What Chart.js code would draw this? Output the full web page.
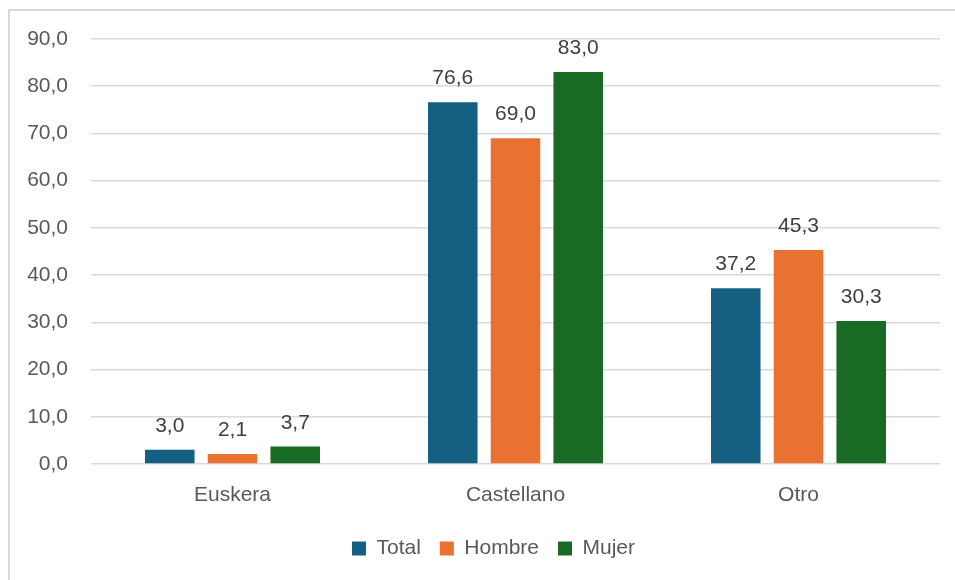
<!DOCTYPE html>
<html>
<head>
<meta charset="utf-8">
<script src="https://cdn.jsdelivr.net/npm/chart.js@4.4.1/dist/chart.umd.min.js"></script>
<style>
    html, body { margin: 0; padding: 0; background: #ffffff; }
    #wrap { position: relative; width: 955px; height: 580px; overflow: hidden; }
    #frame {
        position: absolute; left: 8px; top: 9px; width: 1000px; height: 1000px;
        border-top: 2px solid #d9d9d9; border-left: 2px solid #d9d9d9;
        pointer-events: none;
    }
    canvas { position: absolute; left: 0; top: 0; }
</style>
</head>
<body>
<div id="wrap">
    <canvas id="chart" width="955" height="580"></canvas>
    <div id="frame"></div>
</div>
<script>
// Data
const categories = ['Euskera', 'Castellano', 'Otro'];
const totalValues = [3.0, 76.6, 37.2];
const hombreValues = [2.1, 69.0, 45.3];
const mujerValues = [3.7, 83.0, 30.3];

const FONT = "'Liberation Sans', Arial, sans-serif";
const FONT_SIZE = 21;
const fmt = v => Number(v).toFixed(1).replace('.', ',');

// Value labels above each bar
const valueLabels = {
    id: 'valueLabels',
    afterDatasetsDraw(chart) {
        const ctx = chart.ctx;
        ctx.save();
        ctx.font = FONT_SIZE + 'px ' + FONT;
        ctx.fillStyle = '#404040';
        ctx.textAlign = 'center';
        ctx.textBaseline = 'alphabetic';
        chart.data.datasets.forEach((ds, i) => {
            chart.getDatasetMeta(i).data.forEach((bar, j) => {
                ctx.fillText(fmt(ds.data[j]), bar.x, bar.y - 18);
            });
        });
        ctx.restore();
    }
};

// Nudge the legend box so it is centred like the original
const legendShift = {
    id: 'legendShift',
    afterLayout(chart) {
        if (chart.legend) chart.legend.left += 47;
    }
};

const ctx = document.getElementById('chart').getContext('2d');
new Chart(ctx, {
    type: 'bar',
    data: {
        labels: categories,
        datasets: [
            { label: 'Total', data: totalValues, backgroundColor: '#156082' },
            { label: 'Hombre', data: hombreValues, backgroundColor: '#e97132' },
            { label: 'Mujer', data: mujerValues, backgroundColor: '#196b24' }
        ]
    },
    options: {
        responsive: false,
        animation: false,
        devicePixelRatio: 1,
        categoryPercentage: 0.665,
        barPercentage: 0.79,
        layout: { padding: { left: 0, right: 15, top: 39, bottom: 11 } },
        plugins: {
            tooltip: { enabled: false },
            legend: {
                position: 'bottom',
                labels: {
                    boxWidth: 14,
                    boxHeight: 14,
                    padding: 19,
                    color: '#595959',
                    font: { family: FONT, size: FONT_SIZE }
                }
            }
        },
        scales: {
            x: {
                grid: { display: false },
                border: { display: false },
                ticks: { color: '#595959', padding: 11, font: { family: FONT, size: FONT_SIZE } },
                afterFit: s => { s.height = 55; }
            },
            y: {
                min: 0,
                max: 90,
                grid: { color: '#d9d9d9', lineWidth: 1.5, drawTicks: false },
                border: { display: false },
                ticks: {
                    stepSize: 10,
                    padding: 23,
                    color: '#595959',
                    font: { family: FONT, size: FONT_SIZE },
                    callback: v => fmt(v)
                },
                afterFit: s => { s.width = 91; }
            }
        }
    },
    plugins: [valueLabels, legendShift]
});
</script>
</body>
</html>
